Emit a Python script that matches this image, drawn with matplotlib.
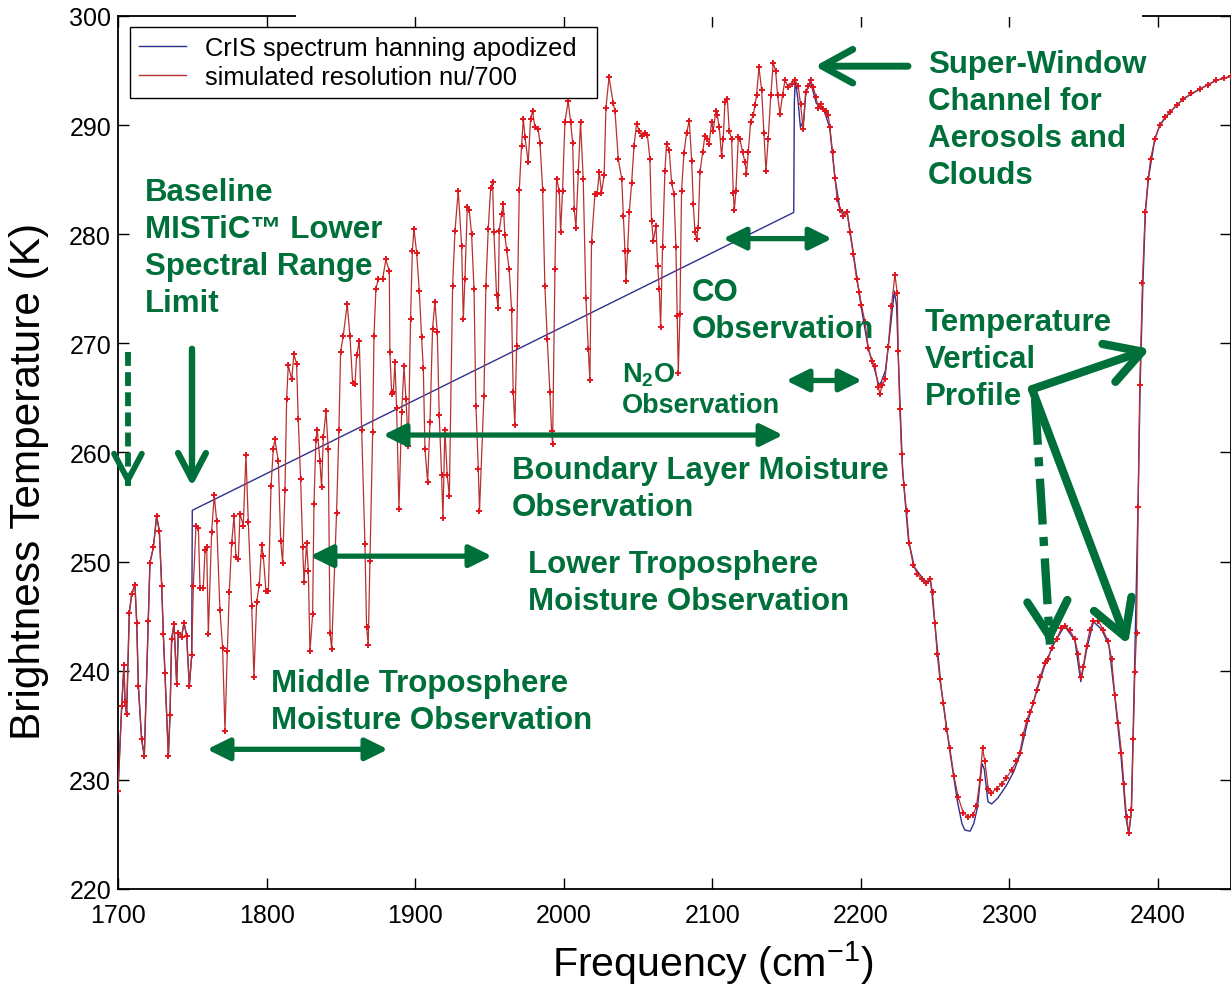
import matplotlib
matplotlib.use("Agg")
import matplotlib.pyplot as plt
from matplotlib.lines import Line2D
from matplotlib.patches import Rectangle

plt.rcParams['font.family'] = ['Liberation Sans', 'DejaVu Sans']
plt.rcParams['mathtext.fontset'] = 'custom'
plt.rcParams['mathtext.rm'] = 'Liberation Sans'
plt.rcParams['mathtext.bf'] = 'Liberation Sans:bold'
plt.rcParams['mathtext.default'] = 'regular'
plt.rcParams['lines.scale_dashes'] = False

# simulated spectrum at resolution nu/700
sim_freq = [
    1700.0, 1702.5, 1704.0, 1704.7, 1705.8, 1707.6, 1709.2, 1711.4, 1712.6, 1713.7,
    1715.9, 1717.7, 1720.4, 1721.5, 1723.8, 1726.0, 1727.8, 1729.4, 1730.5, 1731.6,
    1733.9, 1735.0, 1736.1, 1737.7, 1739.5, 1740.6, 1742.8, 1744.4, 1746.2, 1748.0,
    1749.6, 1750.7, 1752.5, 1754.1, 1755.2, 1757.4, 1758.6, 1759.7, 1760.8, 1763.0,
    1764.8, 1766.4, 1768.6, 1770.4, 1772.0, 1773.6, 1774.9, 1776.5, 1778.1, 1779.4,
    1781.0, 1782.1, 1784.3, 1786.1, 1787.7, 1790.0, 1791.5, 1793.3, 1795.1, 1796.7,
    1797.8, 1799.6, 1801.2, 1803.0, 1804.5, 1805.6, 1807.9, 1809.5, 1810.8, 1812.4,
    1813.5, 1814.6, 1816.9, 1818.4, 1820.2, 1821.3, 1822.9, 1824.3, 1825.2, 1827.0,
    1828.1, 1829.2, 1831.0, 1831.9, 1833.2, 1834.1, 1835.9, 1837.0, 1838.2, 1840.0,
    1841.5, 1842.7, 1843.8, 1847.1, 1848.7, 1849.8, 1851.6, 1854.3, 1856.1, 1857.9,
    1859.5, 1860.6, 1862.4, 1864.0, 1866.2, 1867.3, 1868.4, 1869.6, 1871.4, 1872.3,
    1873.6, 1875.2, 1878.1, 1880.3, 1882.6, 1883.0, 1884.2, 1885.3, 1886.4, 1887.5,
    1889.1, 1890.9, 1892.5, 1893.8, 1895.4, 1896.9, 1898.1, 1899.2, 1901.0, 1902.8,
    1904.3, 1905.5, 1906.6, 1908.4, 1910.0, 1911.7, 1913.3, 1914.9, 1916.2, 1917.8,
    1918.7, 1920.0, 1921.6, 1923.0, 1925.2, 1926.8, 1929.0, 1931.3, 1932.4, 1933.5,
    1935.1, 1936.4, 1938.0, 1939.6, 1940.9, 1942.5, 1943.3, 1946.3, 1947.6, 1949.2,
    1950.8, 1952.1, 1953.0, 1954.8, 1955.9, 1956.6, 1958.2, 1959.3, 1960.4, 1961.5,
    1963.3, 1964.9, 1966.0, 1967.1, 1968.3, 1970.1, 1971.6, 1972.8, 1973.9, 1976.1,
    1977.7, 1979.0, 1980.6, 1982.8, 1984.0, 1985.8, 1987.3, 1988.9, 1990.7, 1991.8,
    1992.5, 1994.1, 1995.2, 1997.0, 1997.9, 1999.2, 2000.8, 2003.0, 2004.6, 2006.0,
    2007.1, 2008.2, 2009.8, 2011.3, 2013.1, 2014.9, 2016.5, 2017.6, 2018.7, 2021.0,
    2022.5, 2023.9, 2025.4, 2027.2, 2028.4, 2030.5, 2033.3, 2034.5, 2036.7, 2039.0,
    2040.1, 2041.2, 2041.9, 2043.0, 2044.1, 2045.7, 2047.3, 2049.0, 2050.8, 2052.4,
    2054.7, 2056.3, 2058.0, 2059.1, 2060.3, 2062.1, 2063.2, 2064.3, 2065.2, 2066.5,
    2068.1, 2069.2, 2071.0, 2072.6, 2074.2, 2075.5, 2076.4, 2077.1, 2078.2, 2079.3,
    2080.9, 2082.7, 2084.5, 2086.1, 2087.2, 2088.3, 2089.4, 2090.5, 2091.7, 2093.5,
    2095.0, 2096.5, 2097.9, 2099.5, 2100.6, 2102.4, 2103.3, 2104.7, 2106.2, 2107.3,
    2108.5, 2110.1, 2111.4, 2113.0, 2114.1, 2114.8, 2115.9, 2117.5, 2118.6, 2120.4,
    2122.0, 2123.0, 2124.2, 2125.8, 2127.5, 2128.7, 2129.8, 2131.4, 2133.2, 2134.7,
    2136.1, 2137.6, 2139.4, 2141.0, 2142.6, 2143.9, 2145.5, 2147.3, 2148.9, 2151.1,
    2153.3, 2155.6, 2157.8, 2159.4, 2161.2, 2162.8, 2164.6, 2166.1, 2167.9, 2169.7,
    2171.3, 2173.1, 2174.7, 2176.4, 2178.0, 2179.1, 2180.9, 2182.5, 2184.1, 2185.9,
    2188.1, 2190.8, 2192.6, 2194.8, 2197.1, 2198.9, 2200.4, 2202.7, 2204.9, 2207.2,
    2209.4, 2211.7, 2212.8, 2214.5, 2216.2, 2218.4, 2220.6, 2222.9, 2224.5, 2225.1,
    2226.2, 2227.4, 2228.9, 2230.7, 2232.5, 2235.2, 2237.9, 2240.8, 2243.7, 2246.4,
    2248.2, 2249.8, 2251.4, 2253.2, 2255.4, 2257.6, 2259.9, 2262.6, 2265.5, 2268.9,
    2272.2, 2275.6, 2277.8, 2280.1, 2281.9, 2283.4, 2285.7, 2287.9, 2291.3, 2294.7,
    2298.0, 2301.4, 2304.7, 2307.0, 2309.2, 2311.5, 2313.7, 2316.0, 2318.2, 2320.5,
    2323.8, 2326.1, 2328.3, 2331.7, 2335.0, 2337.3, 2340.6, 2344.0, 2346.2, 2348.0,
    2349.6, 2351.9, 2354.1, 2356.3, 2359.7, 2363.1, 2366.4, 2368.7, 2370.9, 2373.2,
    2375.4, 2377.0, 2378.8, 2380.3, 2382.1, 2383.3, 2384.4, 2385.5, 2386.6, 2387.7,
    2389.5, 2391.3, 2393.4, 2395.0, 2397.8, 2401.2, 2404.5, 2408.0, 2412.5, 2416.9,
    2422.5, 2428.1, 2433.7, 2439.3, 2444.5, 2449.0,
]
sim_bt = [
    229.0, 236.8, 240.5, 237.1, 236.0, 245.3, 247.0, 247.9, 244.4, 238.6,
    233.7, 232.2, 244.6, 249.9, 251.3, 254.2, 252.8, 247.8, 243.4, 239.8,
    232.2, 235.9, 242.9, 244.3, 238.8, 243.5, 243.1, 244.4, 243.2, 238.6,
    241.4, 247.8, 253.3, 253.1, 247.6, 247.6, 251.1, 251.3, 243.4, 252.7,
    256.1, 253.7, 245.6, 242.1, 234.5, 241.8, 247.2, 251.7, 254.2, 250.4,
    250.2, 254.4, 253.3, 259.8, 253.6, 245.9, 239.4, 246.3, 247.9, 251.5,
    250.5, 247.3, 247.3, 256.9, 260.3, 261.2, 259.2, 251.9, 249.9, 256.6,
    264.9, 268.0, 266.7, 269.0, 268.1, 263.1, 257.6, 251.3, 248.1, 251.7,
    249.1, 241.8, 245.2, 255.3, 261.1, 262.1, 259.2, 256.8, 261.4, 263.8,
    260.3, 243.5, 242.0, 254.5, 262.1, 269.2, 270.7, 273.6, 270.7, 266.4,
    266.3, 268.9, 270.2, 262.1, 251.6, 244.0, 242.4, 250.1, 261.9, 270.7,
    275.0, 275.9, 275.9, 277.7, 276.6, 269.2, 265.4, 265.5, 268.3, 264.1,
    254.8, 263.7, 267.9, 264.9, 260.6, 272.2, 278.5, 280.5, 278.3, 274.8,
    270.6, 267.7, 260.3, 257.3, 262.8, 271.3, 273.8, 271.0, 263.4, 257.9,
    254.0, 262.1, 257.9, 256.0, 275.3, 280.3, 284.0, 278.9, 272.2, 275.9,
    282.5, 282.2, 280.0, 275.0, 264.3, 258.5, 254.6, 265.2, 275.3, 280.5,
    284.2, 284.8, 280.2, 274.4, 273.2, 280.3, 281.9, 282.8, 279.9, 278.6,
    276.8, 273.1, 265.5, 262.5, 269.8, 284.1, 288.1, 290.6, 288.9, 286.6,
    290.6, 291.3, 289.8, 289.6, 288.4, 284.1, 275.3, 270.4, 265.5, 262.0,
    260.8, 276.8, 285.1, 284.0, 280.2, 284.0, 290.3, 292.2, 290.3, 288.4,
    282.3, 280.6, 285.7, 290.3, 285.1, 274.2, 269.5, 266.6, 279.3, 283.7,
    283.7, 285.7, 283.8, 285.4, 291.6, 294.4, 292.0, 291.3, 286.9, 285.1,
    281.7, 278.5, 275.7, 278.5, 282.0, 284.7, 288.1, 290.1, 289.5, 289.0,
    289.3, 289.1, 286.9, 281.2, 279.4, 280.8, 277.1, 275.0, 271.5, 278.8,
    285.8, 288.3, 287.7, 284.7, 283.7, 278.8, 272.5, 267.3, 272.7, 284.0,
    287.4, 289.3, 290.4, 286.7, 282.8, 280.2, 279.6, 280.6, 285.7, 287.5,
    289.0, 288.7, 288.3, 290.3, 289.5, 291.3, 290.9, 289.8, 287.2, 288.7,
    292.1, 292.4, 289.5, 288.7, 283.8, 282.2, 284.0, 288.9, 288.7, 287.5,
    286.6, 285.5, 287.5, 290.3, 290.9, 291.8, 292.8, 295.3, 293.2, 289.3,
    285.8, 288.7, 292.8, 295.7, 295.0, 292.8, 291.0, 292.8, 294.1, 293.5,
    293.8, 294.1, 293.6, 291.9, 289.6, 293.0, 293.6, 294.1, 293.5, 292.6,
    291.6, 291.9, 291.5, 291.3, 290.9, 289.8, 287.5, 285.2, 283.2, 282.2,
    281.7, 282.0, 280.2, 278.2, 275.9, 274.7, 273.5, 272.0, 269.6, 268.4,
    267.9, 266.0, 265.4, 266.2, 266.7, 269.7, 273.4, 276.3, 274.6, 269.3,
    264.0, 259.9, 257.0, 254.6, 251.7, 249.7, 248.9, 248.4, 248.0, 248.4,
    247.2, 244.4, 241.5, 239.2, 237.0, 234.7, 232.9, 230.4, 228.4, 227.0,
    226.6, 226.8, 227.6, 230.0, 232.9, 231.7, 229.2, 228.8, 229.2, 229.6,
    230.2, 230.9, 231.7, 232.5, 234.1, 235.4, 236.2, 237.0, 238.2, 239.4,
    240.7, 241.1, 242.1, 242.9, 243.9, 244.1, 243.7, 242.9, 241.5, 239.4,
    240.3, 242.3, 243.7, 244.6, 244.6, 243.7, 242.7, 241.1, 237.8, 235.2,
    232.5, 229.6, 226.6, 225.1, 227.2, 233.7, 239.9, 243.5, 255.0, 266.2,
    275.5, 282.0, 285.1, 286.9, 288.7, 290.0, 290.7, 291.2, 291.8, 292.4,
    292.9, 293.3, 293.7, 294.1, 294.3, 294.5,
]

# CrIS hanning apodized: same as above below 1750, a straight fill over
# the band gap, then its own readings above 2155
cris_gap_freq = [1750.0, 2154.8]
cris_gap_bt = [254.7, 282.0]
cris_tail_freq = [
    2155.2, 2155.8, 2157.5, 2159.3, 2161.5, 2163.0, 2166.0, 2170.0, 2175.0, 2179.0,
    2182.5, 2186.0, 2191.0, 2195.0, 2200.0, 2205.0, 2208.5, 2212.0, 2213.5, 2216.5,
    2219.5, 2222.5, 2224.0, 2225.5, 2228.0, 2232.0, 2236.0, 2243.0, 2247.0, 2250.0,
    2254.0, 2260.0, 2265.0, 2268.0, 2270.0, 2273.5, 2276.0, 2278.5, 2281.5, 2283.0,
    2285.5, 2288.0, 2292.0, 2298.0, 2303.0, 2307.0, 2312.0, 2318.0, 2324.0, 2330.0,
    2337.0, 2344.0, 2348.0, 2352.0, 2356.5, 2362.0, 2367.0, 2371.0, 2375.0, 2378.5,
    2380.3, 2382.0, 2384.0, 2386.5, 2388.0, 2389.8, 2391.5, 2393.5, 2397.8, 2401.2,
    2408.0, 2417.0, 2428.0, 2439.0, 2450.0,
]
cris_tail_bt = [
    292.0, 294.1, 292.5, 289.8, 290.5, 293.0, 294.0, 292.0, 291.4, 289.8,
    285.2, 282.2, 281.8, 278.2, 273.5, 269.5, 268.0, 266.2, 266.4, 267.5,
    271.0, 274.8, 273.5, 267.5, 258.5, 252.0, 249.5, 248.2, 248.2, 244.0,
    238.5, 232.5, 228.0, 226.0, 225.4, 225.3, 226.0, 227.5, 231.5, 231.0,
    228.0, 227.8, 228.3, 229.5, 230.8, 232.3, 235.2, 238.0, 240.6, 242.5,
    244.1, 242.8, 239.0, 242.0, 244.5, 243.8, 242.3, 237.5, 232.3, 226.5,
    225.0, 227.0, 239.0, 255.0, 266.5, 275.5, 282.0, 285.1, 288.7, 290.0,
    291.2, 292.4, 293.3, 294.1, 294.5,
]

labels = ['CrIS spectrum hanning apodized', 'simulated resolution nu/700']
x_ticks = [1700, 1800, 1900, 2000, 2100, 2200, 2300, 2400]
y_ticks = [220, 230, 240, 250, 260, 270, 280, 290, 300]

k = sum(1 for f in sim_freq if f < 1750)
cris_freq = sim_freq[:k] + cris_gap_freq + cris_tail_freq
cris_bt = sim_bt[:k] + cris_gap_bt + cris_tail_bt

GREEN = '#00703A'
BLUE = '#2F2F8F'
RED = '#B83030'
MRED = '#E0161E'

W, H = 1231, 987
fig = plt.figure(figsize=(W / 100, H / 100), dpi=100)
ax = fig.add_axes([118 / W, 97 / H, 1113 / W, 873 / H])

ax.plot(cris_freq, cris_bt, color=BLUE, lw=1.0, zorder=2)
ax.plot(sim_freq, sim_bt, color=RED, lw=0.9, marker='+', ms=5, mew=1.4,
        mec=MRED, zorder=3)

ax.set_xlim(1700, 2449.1)
ax.set_ylim(220, 300)
ax.set_xticks(x_ticks)
ax.set_yticks(y_ticks)
ax.tick_params(direction='in', length=8, width=1.0, top=True, right=True,
               labelsize=18, color='black')
ax.tick_params(axis='x', pad=10)
ax.tick_params(axis='y', pad=5)
for s in ax.spines.values():
    s.set_linewidth(1.3)

ax.set_xlabel('Frequency (cm$^{-1}$)', fontsize=29.6, va='center')
ax.xaxis.set_label_coords(0.5346, -0.0836)
ax.set_ylabel('Brightness Temperature (K)', fontsize=30.5, va='center')
ax.yaxis.set_label_coords(-0.080, 0.468)

handles = [Line2D([], [], color=BLUE, lw=1.0), Line2D([], [], color=RED, lw=1.0)]
leg = ax.legend(handles, labels, loc='upper left',
                bbox_to_anchor=(12 / 1113, 862 / 873, 467 / 1113, 0),
                mode='expand', borderaxespad=0, fontsize=18.4,
                handlelength=1.85, handletextpad=0.75, borderpad=0.35,
                labelspacing=0.2, fancybox=False, framealpha=1)
leg.get_frame().set_edgecolor('black')
leg.get_frame().set_linewidth(1.0)

# white box of the (cropped) title hides part of the top frame
fig.add_artist(Rectangle((296 / W, 1 - 18 / H), (1142 - 296) / W, 18 / H,
                         transform=fig.transFigure, facecolor='white',
                         edgecolor='none', zorder=10))

# ---- annotations ----
big = dict(fontsize=22.5, fontweight='bold', color=GREEN, ha='left',
           va='center', linespacing=1.3)
ax.text(2245.2, 290.5, 'Super-Window\nChannel for\nAerosols and\nClouds', **big)
ax.text(1718.2, 278.8, 'Baseline\nMISTiC\u2122 Lower\nSpectral Range\nLimit', **big)
ax.text(2086.3, 273.0, 'CO\nObservation', **big)
ax.text(2243.2, 268.6, 'Temperature\nVertical\nProfile', **big)
ax.text(1965.2, 256.7, 'Boundary Layer Moisture\nObservation', **big)
ax.text(1976.0, 248.1, 'Lower Troposphere\nMoisture Observation', **big)
ax.text(1803.0, 237.2, 'Middle Troposphere\nMoisture Observation', **big)
ax.text(2039.2, 265.8, 'N$_2$O\nObservation', fontsize=19.5, fontweight='bold',
        color=GREEN, ha='left', va='center', linespacing=1.23)


def double_arrow(f0, f1, t):
    ax.annotate('', xy=(f1, t), xytext=(f0, t),
                arrowprops=dict(arrowstyle='<|-|>,head_length=0.85,head_width=0.42',
                                mutation_scale=16, lw=3.8, color=GREEN,
                                shrinkA=0, shrinkB=0))


def open_arrow(tail, tip, lw=4.6, scale=20, hl=0.95, hw=0.5, dashes=None):
    if dashes is None:
        ax.annotate('', xy=tip, xytext=tail,
                    arrowprops=dict(arrowstyle='->,head_length=%g,head_width=%g' % (hl, hw),
                                    mutation_scale=scale, lw=lw, color=GREEN,
                                    shrinkA=0, shrinkB=0))
        return
    ax.plot([tail[0], tip[0]], [tail[1], tip[1]], color=GREEN, lw=lw,
            dashes=dashes, dash_capstyle='butt', zorder=4)
    near = (tip[0] - 0.03 * (tip[0] - tail[0]), tip[1] - 0.03 * (tip[1] - tail[1]))
    ax.annotate('', xy=tip, xytext=near,
                arrowprops=dict(arrowstyle='->,head_length=%g,head_width=%g' % (hl, hw),
                                mutation_scale=scale, lw=lw, color=GREEN,
                                shrinkA=0, shrinkB=0))


double_arrow(2107.2, 2180.6, 279.6)   # CO
double_arrow(2149.6, 2200.8, 266.6)   # N2O
double_arrow(1878.4, 2147.6, 261.6)   # boundary layer
double_arrow(1829.2, 1951.7, 250.5)   # lower troposphere
double_arrow(1759.9, 1881.7, 232.8)   # middle troposphere

open_arrow((2231.7, 295.4), (2169.1, 295.4), lw=5, scale=22, hl=1.0, hw=0.55)
open_arrow((1749.8, 269.5), (1749.8, 256.9))
open_arrow((1706.7, 269.2), (1706.7, 256.9), lw=4.2, dashes=(10, 4.5))

# temperature profile arrows
open_arrow((2315.2, 265.8), (2394.6, 269.5), lw=6, scale=24, hl=1.05, hw=0.6)
open_arrow((2315.2, 265.8), (2379.8, 242.4), lw=6, scale=24, hl=1.05, hw=0.6)
open_arrow((2317.2, 264.9), (2327.3, 242.4), lw=6, scale=24, hl=1.05, hw=0.6,
           dashes=(33, 9, 6.5, 9))

fig.savefig('out.png', dpi=100)
